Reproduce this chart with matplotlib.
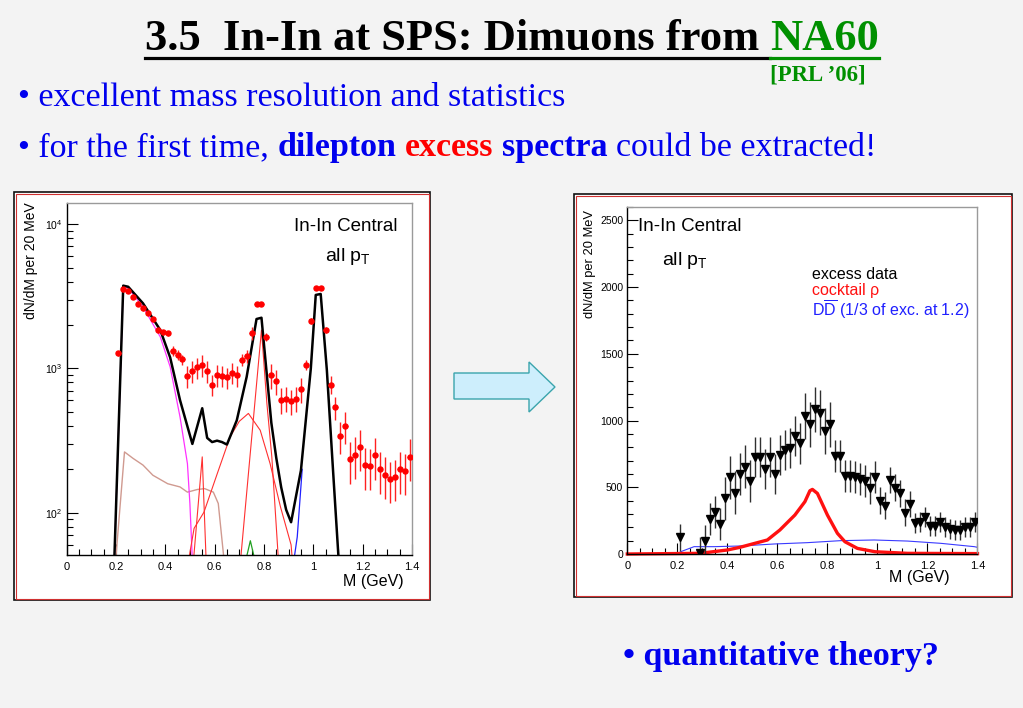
import matplotlib
matplotlib.use("Agg")
import matplotlib.pyplot as plt
from matplotlib.patches import Rectangle, Polygon
from matplotlib.lines import Line2D
from matplotlib.ticker import MultipleLocator, LogLocator, FormatStrFormatter, NullFormatter

plt.rcParams['font.family'] = ['Liberation Sans', 'DejaVu Sans']
plt.rcParams['mathtext.fontset'] = 'custom'
plt.rcParams['mathtext.rm'] = 'Liberation Sans'
plt.rcParams['mathtext.it'] = 'Liberation Sans:italic'

# ---- left panel: measured dimuon spectrum with cocktail (log scale) ----
data_m = [0.21, 0.23, 0.25, 0.27, 0.29, 0.31, 0.33, 0.35, 0.37, 0.39,
          0.41, 0.43, 0.45, 0.47, 0.49, 0.51, 0.53, 0.55, 0.57, 0.59,
          0.61, 0.63, 0.65, 0.67, 0.69, 0.71, 0.73, 0.75, 0.77, 0.79,
          0.81, 0.83, 0.85, 0.87, 0.89, 0.91, 0.93, 0.95, 0.97, 0.99,
          1.01, 1.03, 1.05, 1.07, 1.09, 1.11, 1.13, 1.15, 1.17, 1.19,
          1.21, 1.23, 1.25, 1.27, 1.29, 1.31, 1.33, 1.35, 1.37, 1.39]
data_y = [1270, 3550, 3450, 3140, 2800, 2620, 2430, 2190, 1845, 1780,
          1750, 1324, 1243, 1155, 885, 957, 1016, 1054, 957, 774,
          898, 889, 867, 933, 894, 1150, 1216, 1750, 2805, 2805,
          1655, 898, 816, 609, 619, 593, 619, 715, 1054, 2130,
          3625, 3625, 1845, 774, 537, 343, 398, 234, 253, 286,
          213, 211, 250, 200, 184, 171, 177, 200, 194, 244]
data_rel_err = [0.04] * 11 + [0.08] * 3 + [0.17] * 11 + [0.10] * 3 + [0.03] * 2 \
    + [0.06] + [0.20] * 7 + [0.08, 0.05, 0.03, 0.03, 0.05] \
    + [0.14, 0.18, 0.25, 0.25] + [0.32] * 13

total_m = [0.19, 0.23, 0.25, 0.31, 0.38, 0.42, 0.46, 0.51, 0.55, 0.57, 0.59,
           0.61, 0.63, 0.65, 0.69, 0.73, 0.77, 0.79, 0.81, 0.83, 0.85, 0.87,
           0.89, 0.91, 0.95, 0.99, 1.01, 1.03, 1.055, 1.08, 1.11]
total_y = [30, 3745, 3680, 2825, 1845, 1192, 603, 300, 530, 330, 309,
           316, 309, 297, 437, 874, 2200, 2245, 973, 420, 240, 150,
           105, 86, 197, 1000, 3230, 3280, 973, 197, 30]

eta_dal_m = [0.19, 0.23, 0.25, 0.31, 0.38, 0.42, 0.46, 0.49, 0.50, 0.515]
eta_dal_y = [30, 3700, 3600, 2670, 1655, 1026, 461, 219, 116, 30]

omega_dal_m = [0.19, 0.235, 0.27, 0.31, 0.35, 0.41, 0.46, 0.49, 0.53, 0.56,
               0.595, 0.615, 0.65]
omega_dal_y = [30, 264, 238, 214, 182, 159, 151, 139, 145, 147, 139, 116, 30]

eta_mm_m = [0.505, 0.55, 0.57]
eta_mm_y = [30, 244, 30]

rho_m = [0.475, 0.517, 0.557, 0.611, 0.663, 0.70, 0.737, 0.785, 0.825,
         0.867, 0.91, 0.925]
rho_y = [30, 78, 101, 187, 336, 430, 488, 373, 219, 110, 60, 30]

omega_m = [0.695, 0.79, 0.812, 0.832, 0.866]
omega_y = [30, 1845, 572, 244, 30]

etap_m = [0.70, 0.745, 0.79]
etap_y = [30, 64, 30]

phi_m = [0.905, 0.935, 0.955]
phi_y = [30, 68, 200]

# ---- right panel: excess spectrum (linear scale) ----
exc_m = [0.21] + [round(0.29 + 0.02 * i, 2) for i in range(56)]
exc_y = [125, 5, 97, 259, 312, 222, 417, 574, 459, 599, 654, 546, 729, 724,
         634, 729, 599, 741, 778, 796, 883, 828, 1033, 971, 1083, 1060, 923,
         971, 734, 736, 584, 586, 574, 559, 549, 492, 574, 399, 362, 554, 497,
         454, 309, 374, 230, 242, 279, 212, 212, 242, 200, 187, 180, 180, 200,
         200, 242]
exc_err = [100] + [120] * 5 + [160] * 6 + [150] * 10 + [170] * 6 + [120] * 9 \
    + [100] * 7 + [75] * 13

ckt_rho_m = [0, 0.29, 0.40, 0.45, 0.51, 0.56, 0.61, 0.67, 0.71, 0.73, 0.74,
             0.76, 0.80, 0.84, 0.87, 0.92, 0.99, 1.12, 1.4]
ckt_rho_y = [0, 5, 30, 50, 80, 105, 180, 292, 392, 474, 484, 454, 292, 155,
             92, 42, 17, 5, 3]

dd_m = [0, 0.2, 0.213, 0.267, 0.347, 0.453, 0.587, 0.72, 0.853, 0.987, 1.12,
        1.253, 1.387, 1.4]
dd_y = [0, 0, 17, 55, 55, 60, 75, 85, 100, 105, 97, 80, 55, 50]

mass_ticks = [0, 0.2, 0.4, 0.6, 0.8, 1.0, 1.2, 1.4]

W, H = 1023, 708
fig = plt.figure(figsize=(W / 100, H / 100), dpi=100, facecolor='#f3f3f3')


def fx(x):
    return x / W


def fy(y):
    return 1 - y / H


def panel(x0, y0, x1, y1):
    fig.add_artist(Rectangle((fx(x0), fy(y1)), (x1 - x0) / W, (y1 - y0) / H,
                             transform=fig.transFigure, facecolor='white',
                             edgecolor='#111111', lw=1.2, zorder=-2))
    fig.add_artist(Rectangle((fx(x0 + 1.5), fy(y1 - 1.5)), (x1 - x0 - 3) / W,
                             (y1 - y0 - 3) / H, transform=fig.transFigure,
                             facecolor='none', edgecolor='#d03030', lw=0.8,
                             zorder=-1))


panel(14, 192, 430, 600)
panel(574, 194, 1012, 597)


def style_axes(ax):
    ax.set_facecolor('white')
    for s in ('left', 'bottom'):
        ax.spines[s].set_color('black')
        ax.spines[s].set_linewidth(1.0)
    for s in ('top', 'right'):
        ax.spines[s].set_color('#9a9a9a')
        ax.spines[s].set_linewidth(1.0)
    ax.tick_params(which='both', direction='in', top=False, right=False,
                   colors='black', width=0.8)
    ax.tick_params(which='major', length=8)
    ax.tick_params(which='minor', length=4.5)
    ax.tick_params(axis='x', pad=5, labelsize=8)
    ax.tick_params(axis='y', pad=3, labelsize=7.5)
    ax.set_xlim(0, 1.4)
    ax.set_xticks(mass_ticks)
    ax.xaxis.set_major_formatter(FormatStrFormatter('%g'))
    ax.xaxis.set_minor_locator(MultipleLocator(0.05))


# left axes
axL = fig.add_axes([fx(66.5), fy(555), 345.5 / W, 352 / H])
axL.set_yscale('log')
style_axes(axL)
axL.set_ylim(51, 14000)
axL.yaxis.set_major_locator(LogLocator(base=10))
axL.yaxis.set_minor_locator(LogLocator(base=10, subs=range(2, 10)))
axL.yaxis.set_minor_formatter(NullFormatter())

axL.plot(omega_dal_m, omega_dal_y, color='#d09a90', lw=1.0)
axL.plot(eta_dal_m, eta_dal_y, color='#ff30ff', lw=0.9)
axL.plot(eta_mm_m, eta_mm_y, color='#ff3030', lw=0.8)
axL.plot(rho_m, rho_y, color='#ff3030', lw=0.8)
axL.plot(omega_m, omega_y, color='#ff3030', lw=0.8)
axL.plot(etap_m, etap_y, color='#20a020', lw=0.9)
axL.plot(phi_m, phi_y, color='#2020ff', lw=0.9)
axL.plot(total_m, total_y, color='black', lw=1.8)
yerr_l = [v * e for v, e in zip(data_y, data_rel_err)]
axL.errorbar(data_m, data_y, yerr=yerr_l, xerr=0.009, fmt='o', ms=3.6,
             color='#ff0000', ecolor='#ff2020', elinewidth=1.0, capsize=0,
             zorder=5)

axL.text(0.958, 0.958, 'In-In Central', transform=axL.transAxes, ha='right',
         va='top', fontsize=13.5)
axL.text(0.815, 0.878, r'all p$_\mathrm{T}$', transform=axL.transAxes,
         ha='center', va='top', fontsize=14)
fig.text(fx(404), fy(586), 'M (GeV)', ha='right', va='baseline', fontsize=11.5)
fig.text(fx(31), fy(202), 'dN/dM per 20 MeV', rotation=90, ha='center',
         va='top', fontsize=10)

# right axes
axR = fig.add_axes([fx(627.3), fy(554), 350.2 / W, 347 / H])
style_axes(axR)
axR.set_ylim(0, 2600)
axR.yaxis.set_major_locator(MultipleLocator(500))
axR.yaxis.set_minor_locator(MultipleLocator(100))

axR.plot(dd_m, dd_y, color='#3a3aff', lw=0.8)
axR.plot(ckt_rho_m, ckt_rho_y, color='#ff1010', lw=2.4, clip_on=False)
axR.errorbar(exc_m, exc_y, yerr=exc_err, fmt='v', ms=5.5, color='black',
             ecolor='#303030', elinewidth=1.0, capsize=0, zorder=5)

axR.text(0.03, 0.968, 'In-In Central', transform=axR.transAxes, ha='left',
         va='top', fontsize=13.5)
axR.text(0.10, 0.875, r'all p$_\mathrm{T}$', transform=axR.transAxes,
         ha='left', va='top', fontsize=14)
axR.text(0.527, 0.792, 'excess data', transform=axR.transAxes, ha='left',
         va='baseline', fontsize=11.5, color='black')
axR.text(0.527, 0.746, 'cocktail \u03c1', transform=axR.transAxes,
         ha='left', va='baseline', fontsize=11.5, color='#ff1010')
axR.text(0.527, 0.686, r'D$\overline{\mathrm{D}}$ (1/3 of exc. at 1.2)',
         transform=axR.transAxes, ha='left', va='baseline', fontsize=11.5,
         color='#2020ff')
fig.text(fx(950), fy(582), 'M (GeV)', ha='right', va='baseline', fontsize=11.5)
fig.text(fx(590), fy(210), 'dN/dM per 20 MeV', rotation=90, ha='center',
         va='top', fontsize=9.3)

# arrow between panels
fig.add_artist(Polygon([(fx(454), fy(373)), (fx(529), fy(373)),
                        (fx(529), fy(362)), (fx(555), fy(387)),
                        (fx(529), fy(412)), (fx(529), fy(399)),
                        (fx(454), fy(399))], closed=True,
                       transform=fig.transFigure, facecolor='#cdeefc',
                       edgecolor='#3aa4ac', lw=1.0))

# slide text
renderer = fig.canvas.get_renderer()
serif = 'Liberation Serif'


def chain(parts, x, y, size):
    cur = x
    out = []
    gap = 0.25 * size * 100 / 72
    for i, (s, color, weight) in enumerate(parts):
        if i > 0:
            cur += gap
        t = fig.text(fx(cur), fy(y), s, color=color, fontsize=size,
                     fontweight=weight, family=serif, ha='left',
                     va='baseline')
        bb = t.get_window_extent(renderer=renderer)
        cur = bb.x1
        out.append((t, bb))
    return out


title = chain([('3.5  In-In at SPS: Dimuons from', 'black', 'bold'),
               ('NA60', '#009000', 'bold')], 145, 50, 32)
tx0 = title[0][1].x0
gx0 = title[1][1].x0
gx1 = title[1][1].x1
fig.add_artist(Line2D([fx(tx0), fx(gx0)], [fy(57.5), fy(57.5)],
                      transform=fig.transFigure, color='black', lw=2.3))
fig.add_artist(Line2D([fx(gx0), fx(gx1)], [fy(57.5), fy(57.5)],
                      transform=fig.transFigure, color='#009000', lw=2.3))

fig.text(fx(770), fy(81), '[PRL \u201906]', color='#009000', fontsize=16.5,
         fontweight='bold', family=serif, ha='left', va='baseline')

chain([('\u2022 excellent mass resolution and statistics', '#0000ee', 'normal')],
      18, 106, 24.5)
chain([('\u2022 for the first time,', '#0000ee', 'normal'),
       ('dilepton', '#0000ee', 'bold'),
       ('excess', '#ff0000', 'bold'),
       ('spectra', '#0000ee', 'bold'),
       ('could be extracted!', '#0000ee', 'normal')], 18, 156, 24.5)
chain([('\u2022 quantitative theory?', '#0000ee', 'bold')], 623, 665, 24.5)

fig.savefig('out.png', dpi=100, facecolor=fig.get_facecolor())
